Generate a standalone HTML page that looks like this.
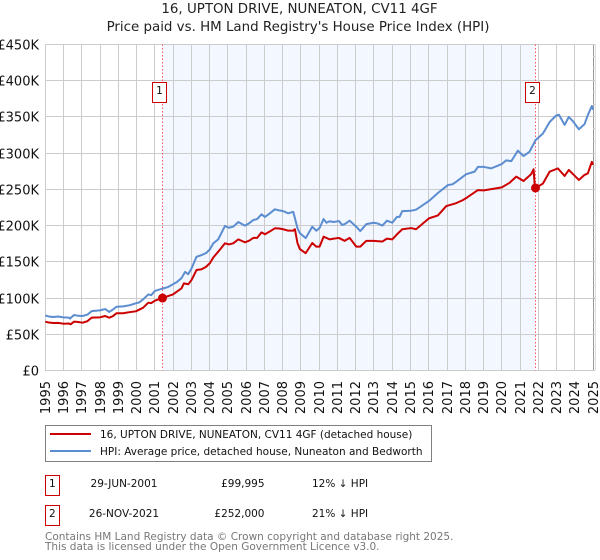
<!DOCTYPE html>
<html>
<head>
<meta charset="utf-8">
<style>
html,body{margin:0;padding:0;background:#fff;}
svg{display:block;font-family:"DejaVu Sans","Liberation Sans",sans-serif;}
</style>
</head>
<body>
<svg id="chart" xmlns="http://www.w3.org/2000/svg" width="600" height="560" viewBox="0 0 600 560">
  <rect width="600" height="560" fill="#fff"/>
  <text x="299.5" y="13" text-anchor="middle" font-size="13.4" fill="#222">16, UPTON DRIVE, NUNEATON, CV11 4GF</text>
  <text x="298" y="31" text-anchor="middle" font-size="13.4" fill="#222">Price paid vs. HM Land Registry's House Price Index (HPI)</text>
  <g id="plot"></g>

  <g>
    <rect x="45.5" y="425.5" width="386" height="36" fill="#fff" stroke="#808080"/>
    <line x1="50" x2="91" y1="434" y2="434" stroke="#cc0000" stroke-width="2"/>
    <text x="100" y="438" font-size="10.5" fill="#111">16, UPTON DRIVE, NUNEATON, CV11 4GF (detached house)</text>
    <line x1="50" x2="91" y1="451" y2="451" stroke="#5b8dd0" stroke-width="2"/>
    <text x="100" y="455" font-size="10.5" fill="#111">HPI: Average price, detached house, Nuneaton and Bedworth</text>
  </g>

  <g>
    <rect x="45.5" y="475.5" width="14" height="20" fill="#fff" stroke="#cc0000"/>
    <text x="52.3" y="487" text-anchor="middle" font-size="10.5" fill="#111">1</text>
    <text x="124" y="487" text-anchor="middle" font-size="10.5" fill="#111">29-JUN-2001</text>
    <text x="264.5" y="487" text-anchor="end" font-size="10.5" fill="#111">£99,995</text>
    <text x="312" y="487" font-size="10.5" fill="#111">12% ↓ HPI</text>
  </g>
  <g>
    <rect x="45.5" y="505.5" width="14" height="20" fill="#fff" stroke="#cc0000"/>
    <text x="52.3" y="517" text-anchor="middle" font-size="10.5" fill="#111">2</text>
    <text x="124" y="517" text-anchor="middle" font-size="10.5" fill="#111">26-NOV-2021</text>
    <text x="264.5" y="517" text-anchor="end" font-size="10.5" fill="#111">£252,000</text>
    <text x="312" y="517" font-size="10.5" fill="#111">21% ↓ HPI</text>
  </g>

  <text x="45" y="540" font-size="10.5" fill="#777">Contains HM Land Registry data © Crown copyright and database right 2025.</text>
  <text x="45" y="550" font-size="10.5" fill="#777">This data is licensed under the Open Government Licence v3.0.</text>
</svg>
<script>
var yTicks = [0, 50, 100, 150, 200, 250, 300, 350, 400, 450];
var yTickLabels = ["£0", "£50K", "£100K", "£150K", "£200K", "£250K", "£300K", "£350K", "£400K", "£450K"];
var xTicks = [1995, 1996, 1997, 1998, 1999, 2000, 2001, 2002, 2003, 2004, 2005, 2006, 2007, 2008, 2009, 2010, 2011, 2012, 2013, 2014, 2015, 2016, 2017, 2018, 2019, 2020, 2021, 2022, 2023, 2024, 2025];
var saleYears = [2001.4, 2021.87];
var saleValues = [99.995, 252];
var saleLabels = ["1", "2"];
var hpiYears = [1995.0, 1995.2, 1995.44, 1995.7, 1995.99, 1996.3, 1996.35, 1996.57, 1996.8, 1997.04, 1997.3, 1997.54, 1997.75, 1997.99, 1998.28, 1998.5, 1998.7, 1998.9, 1999.27, 1999.6, 1999.96, 2000.15, 2000.36, 2000.64, 2000.8, 2001, 2001.46, 2001.7, 2001.99, 2002.2, 2002.46, 2002.65, 2002.83, 2003.01, 2003.28, 2003.56, 2003.8, 2004.01, 2004.2, 2004.47, 2004.84, 2005.05, 2005.29, 2005.57, 2005.93, 2006.15, 2006.39, 2006.6, 2006.84, 2007.03, 2007.3, 2007.57, 2007.8, 2008.03, 2008.3, 2008.58, 2008.81, 2008.94, 2009.26, 2009.62, 2009.84, 2010.02, 2010.24, 2010.4, 2010.57, 2010.8, 2011.08, 2011.25, 2011.39, 2011.67, 2012.03, 2012.25, 2012.58, 2012.98, 2013.2, 2013.46, 2013.71, 2014, 2014.26, 2014.4, 2014.55, 2015.04, 2015.3, 2015.54, 2016.01, 2016.5, 2017.05, 2017.3, 2017.51, 2018.05, 2018.51, 2018.69, 2019.02, 2019.42, 2020.0, 2020.24, 2020.52, 2020.88, 2021.19, 2021.52, 2021.85, 2022.25, 2022.62, 2022.98, 2023.13, 2023.44, 2023.67, 2023.9, 2024.22, 2024.53, 2024.71, 2024.93, 2025];
var hpiValues = [76, 74.5, 73.9, 74.5, 73.4, 73, 71.6, 76.6, 75.5, 75.2, 77, 82, 82.5, 83, 84.8, 80.8, 84, 88, 88.5, 90, 92.7, 94, 98.3, 105, 104, 109.8, 113.4, 115, 119, 122, 127.6, 136, 133, 141, 157, 159.4, 162, 167, 175.6, 181, 199.5, 197, 198.5, 205, 200, 203, 207.7, 209, 215.6, 212, 217, 222.5, 221, 220, 217, 219, 196.7, 189.6, 182.7, 198.5, 193, 196.7, 209, 204, 206, 205, 206.3, 201, 202, 206.8, 198.5, 192.5, 202, 204, 203, 200, 206.8, 204, 212, 212, 220, 220.6, 222, 226, 234, 245, 256, 257, 260.6, 271, 274.5, 281, 281, 279, 285, 290, 289, 303.5, 296, 302, 318, 327, 343, 352, 353, 339, 350, 344, 333, 340, 352.5, 365, 360];
var paidYears = [1995.0, 1995.2, 1995.44, 1995.7, 1995.99, 1996.3, 1996.39, 1996.57, 1996.8, 1997.04, 1997.3, 1997.54, 1997.75, 1997.99, 1998.28, 1998.5, 1998.7, 1998.9, 1999.27, 1999.6, 1999.96, 2000.36, 2000.64, 2000.8, 2001, 2001.4, 2001.99, 2002.46, 2002.59, 2002.83, 2003.01, 2003.28, 2003.56, 2003.8, 2004.01, 2004.2, 2004.47, 2004.84, 2005.05, 2005.29, 2005.57, 2005.93, 2006.15, 2006.39, 2006.6, 2006.84, 2007.03, 2007.3, 2007.57, 2007.8, 2008.03, 2008.3, 2008.58, 2008.67, 2008.81, 2008.94, 2009.26, 2009.62, 2009.84, 2010.02, 2010.24, 2010.57, 2010.8, 2011.08, 2011.39, 2011.67, 2012.03, 2012.25, 2012.58, 2012.98, 2013.46, 2013.71, 2014, 2014.26, 2014.55, 2015.04, 2015.3, 2015.54, 2016.01, 2016.5, 2016.96, 2017.5, 2017.85, 2018.05, 2018.69, 2019.02, 2020.0, 2020.42, 2020.79, 2021.19, 2021.61, 2021.74, 2021.81, 2021.87, 2022.25, 2022.62, 2023.07, 2023.44, 2023.67, 2024.22, 2024.53, 2024.71, 2024.93, 2025];
var paidValues = [67.4, 66.2, 65.6, 65.8, 64.6, 64.8, 63.8, 67.4, 67, 66, 68, 73, 73.2, 73.4, 75.2, 72.9, 75, 79, 79, 80.5, 81.7, 86.7, 93.6, 93, 96.4, 99.995, 105, 113.4, 120.3, 119, 125, 138.7, 139.7, 143, 148, 156, 164, 175.6, 174, 175.6, 181, 177, 179, 183, 183, 190.7, 188, 192, 196.3, 196, 195, 193, 193, 195, 176, 167.7, 162, 176, 171, 171, 184.7, 181, 182, 183, 179, 183, 171, 171, 179, 179, 178, 182, 181, 188, 195, 196.6, 195, 200, 210, 214, 227, 231, 235, 238, 249, 248.7, 252.8, 259, 267.6, 261.6, 271, 277.8, 253.7, 252, 258, 274.5, 279, 268.5, 276.8, 263, 270, 272, 288, 284];

var svgNS = "http://www.w3.org/2000/svg";
var plot = document.getElementById("plot");
var plotLeft = 45.3, plotRight = 595, plotTop = 44.5, plotBottom = 370.5;
function xScale(year) { return plotLeft + (year - 1995) * 18.26; }
function yScale(value) { return plotBottom - value * (plotBottom - plotTop) / 450; }
function snap(v) { return Math.floor(v) + 0.5; }
function make(tag, attrs, parent) {
  var el = document.createElementNS(svgNS, tag);
  for (var k in attrs) { el.setAttribute(k, attrs[k]); }
  (parent || plot).appendChild(el);
  return el;
}
function pathFrom(xs, ys) {
  var d = "";
  for (var i = 0; i < xs.length; i++) {
    d += (i ? "L" : "M") + xScale(xs[i]).toFixed(2) + " " + yScale(ys[i]).toFixed(2);
  }
  return d;
}

var shade = make("rect", {x: snap(xScale(saleYears[0])), y: plotTop, width: snap(xScale(saleYears[1])) - snap(xScale(saleYears[0])), height: plotBottom - plotTop, fill: "#f3f7ff"});



yTicks.forEach(function (t, i) {
  var y = snap(yScale(t));
  var g = make("line", {x1: 45, x2: plotRight, y1: y, y2: y, stroke: "#cccccc", "stroke-width": 1});
  
  
  var l = make("text", {x: 39, y: y + 5, "text-anchor": "end", "font-size": 13, fill: "#111"});
  
  
  l.textContent = yTickLabels[i];
});

xTicks.forEach(function (t) {
  var x = snap(xScale(t));
  var g = make("line", {x1: x, x2: x, y1: plotTop, y2: plotBottom, stroke: t === 2025 ? "#999999" : "#cccccc", "stroke-width": 1});
  
  
  var l = make("text", {x: 0, y: 0, transform: "translate(" + (x + 4.5) + ",381) rotate(-90)", "text-anchor": "end", "font-size": 13, fill: "#111"});
  
  
  l.textContent = String(t);
});

var edge = make("line", {x1: 595.5, x2: 595.5, y1: plotTop, y2: plotBottom, stroke: "#dddddd", "stroke-width": 1});


for (var m = 0; m < 28; m++) {
  var ty = snap(plotTop + m * 12.07);
  var tick = make("line", {x1: 593, x2: 595, y1: ty, y2: ty, stroke: "#cccccc", "stroke-width": 1});
  
  
}

saleYears.forEach(function (t) {
  var sx = snap(xScale(t));
  var v = make("line", {x1: sx, x2: sx, y1: plotTop, y2: plotBottom, stroke: "#ff5566", "stroke-width": 1, "stroke-dasharray": "1.5,2"});
  
  
});

var hpiLine = make("path", {d: pathFrom(hpiYears, hpiValues), fill: "none", stroke: "#5b8dd0", "stroke-width": 2, "stroke-linejoin": "round"});


var paidLine = make("path", {d: pathFrom(paidYears, paidValues), fill: "none", stroke: "#cc0000", "stroke-width": 2, "stroke-linejoin": "round"});



saleYears.forEach(function (t, i) {
  var dot = make("circle", {cx: snap(xScale(t)), cy: yScale(saleValues[i]), r: 4.5, fill: "#cc0000"});
  
  
  var bx = Math.floor(xScale(t)) - 9.5;
  var box = make("rect", {x: bx, y: 82.5, width: 14, height: 20, fill: "#fff", stroke: "#cc0000", "stroke-width": 1});
  
  
  var lab = make("text", {x: bx + 7, y: 94, "text-anchor": "middle", "font-size": 10.5, fill: "#111"});
  
  
  lab.textContent = saleLabels[i];
});
</script>
</body>
</html>
